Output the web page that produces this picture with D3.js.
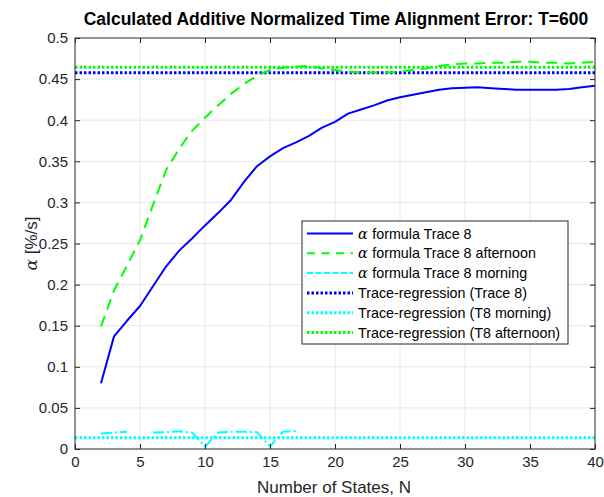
<!DOCTYPE html>
<html>
<head>
<meta charset="utf-8">
<script src="https://cdn.jsdelivr.net/npm/d3@7"></script>
<style>
  body { margin:0; background:#ffffff; }
  svg text { font-family: "Liberation Sans", Arial, Helvetica, sans-serif; }
</style>
</head>
<body>
<svg id="chart" width="604" height="497"></svg>
<script>
// number of states
var statesN = [2,3,4,5,6,7,8,9,10,11,12,13,14,15,16,17,18,19,20,21,22,23,24,25,26,27,28,29,30,31,32,33,34,35,36,37,38,39,40];

// alpha formula, Trace 8
var alphaTrace8 = [0.080,0.137,0.156,0.174,0.198,0.222,0.241,0.256,0.272,0.287,0.303,0.325,0.344,0.356,0.366,0.373,0.381,0.391,0.398,0.408,0.413,0.418,0.424,0.428,0.431,0.434,0.437,0.439,0.4395,0.440,0.439,0.438,0.437,0.437,0.437,0.437,0.438,0.440,0.442];

// alpha formula, Trace 8 afternoon
var alphaAfternoon = [0.149,0.193,0.223,0.254,0.297,0.339,0.365,0.387,0.403,0.418,0.432,0.444,0.454,0.461,0.464,0.465,0.466,0.463,0.461,0.459,0.458,0.458,0.458,0.459,0.461,0.463,0.466,0.468,0.469,0.469,0.470,0.470,0.471,0.471,0.470,0.470,0.469,0.470,0.471];

// alpha formula, Trace 8 morning (N=2..17, N=5 missing)
var statesMorning = [2,3,4,5,6,7,8,9,10,11,12,13,14,15,16,17];
var alphaMorning = [0.019,0.020,0.021,null,0.020,0.0205,0.0215,0.020,0.003,0.020,0.021,0.021,0.0205,0.003,0.021,0.022];

// trace-regression levels
var regTrace8 = 0.4577;
var regMorning = 0.0138;
var regAfternoon = 0.4645;

var xTicks = [0,5,10,15,20,25,30,35,40];
var yTicks = [0,0.05,0.1,0.15,0.2,0.25,0.3,0.35,0.4,0.45,0.5];

var margin = {left:75, top:38, right:9, bottom:48};
var W = 604, H = 497;
var plotW = W - margin.left - margin.right;
var plotH = H - margin.top - margin.bottom;

var svg = d3.select("#chart");
var g = svg.append("g").attr("transform","translate("+margin.left+","+margin.top+")");

var x = d3.scaleLinear().domain([0,40]).range([0,plotW]);
var y = d3.scaleLinear().domain([0,0.5]).range([plotH,0]);

// grid
g.append("g")
    .attr("class","grid")
    .selectAll("line.gx").data(xTicks.slice(1,-1)).enter().append("line")
    .attr("x1",function(d){ return x(d); }).attr("x2",function(d){ return x(d); })
    .attr("y1",0).attr("y2",plotH)
    .attr("stroke","#e6e6e6").attr("stroke-width",1);
g.append("g")
    .attr("class","grid")
    .selectAll("line.gy").data(yTicks.slice(1,-1)).enter().append("line")
    .attr("x1",0).attr("x2",plotW)
    .attr("y1",function(d){ return y(d); }).attr("y2",function(d){ return y(d); })
    .attr("stroke","#e6e6e6").attr("stroke-width",1);

svg.append("defs").append("clipPath").attr("id","plotClip")
    .append("rect").attr("x",0).attr("y",0).attr("width",plotW).attr("height",plotH);

var marks = g.append("g").attr("clip-path","url(#plotClip)");

var lineFn = d3.line()
    .defined(function(d){ return d[1] !== null; })
    .x(function(d){ return x(d[0]); })
    .y(function(d){ return y(d[1]); });

// regression levels (dotted)
var regs = [
    {v:regTrace8, color:"#0000ff"},
    {v:regMorning, color:"#00ffff"},
    {v:regAfternoon, color:"#00ff00"}
];
regs.forEach(function(r){
    marks.append("path")
        .attr("d", lineFn([[0,r.v],[40,r.v]]))
        .attr("fill","none")
        .attr("stroke",r.color)
        .attr("stroke-width",3)
        .attr("stroke-dasharray","2.5,2");
});

// formula curves
marks.append("path")
    .attr("d", lineFn(statesN.map(function(n,i){ return [n, alphaAfternoon[i]]; })))
    .attr("fill","none").attr("stroke","#00ff00").attr("stroke-width",2)
    .attr("stroke-dasharray","11,7");

marks.append("path")
    .attr("d", lineFn(statesMorning.map(function(n,i){ return [n, alphaMorning[i]]; })))
    .attr("fill","none").attr("stroke","#00ffff").attr("stroke-width",2)
    .attr("stroke-dasharray","11,3,2,3");

marks.append("path")
    .attr("d", lineFn(statesN.map(function(n,i){ return [n, alphaTrace8[i]]; })))
    .attr("fill","none").attr("stroke","#0000ff").attr("stroke-width",2)
    .attr("stroke-linejoin","round");

// axes (ticks inside, box on)
var axisColor = "#262626";
g.append("g").attr("transform","translate(0,"+plotH+")")
    .call(d3.axisBottom(x).tickValues(xTicks).tickSizeInner(-5).tickSizeOuter(0).tickPadding(7));
g.append("g")
    .call(d3.axisLeft(y).tickValues(yTicks).tickSizeInner(-5).tickSizeOuter(0).tickPadding(7)
        .tickFormat(function(d){ return d === 0 ? "0" : String(d); }));
g.append("g")
    .call(d3.axisTop(x).tickValues(xTicks).tickSizeInner(-5).tickSizeOuter(0).tickFormat(""));
g.append("g").attr("transform","translate("+plotW+",0)")
    .call(d3.axisRight(y).tickValues(yTicks).tickSizeInner(-5).tickSizeOuter(0).tickFormat(""));

g.selectAll(".domain").remove();
g.selectAll(".tick line").attr("stroke",axisColor);
g.selectAll(".tick text").attr("fill",axisColor).style("font-size","15px")
    .style("font-family","'Liberation Sans', Arial, sans-serif");

g.append("rect").attr("x",0).attr("y",0).attr("width",plotW).attr("height",plotH)
    .attr("fill","none").attr("stroke",axisColor).attr("stroke-width",1);

// title and labels
svg.append("text")
    .attr("x", margin.left + plotW/2 + 1).attr("y", 25)
    .attr("text-anchor","middle")
    .style("font-size","17.5px").style("font-weight","bold").attr("fill","#000000")
    .text("Calculated Additive Normalized Time Alignment Error: T=600");

svg.append("text")
    .attr("x", margin.left + plotW/2 - 1).attr("y", 493)
    .attr("text-anchor","middle")
    .style("font-size","17px").attr("fill",axisColor)
    .text("Number of States, N");

var yl = svg.append("text")
    .attr("transform","translate(37,"+(margin.top+plotH/2)+") rotate(-90)")
    .attr("text-anchor","middle")
    .style("font-size","17px").attr("fill",axisColor);
yl.append("tspan").style("font-family","'DejaVu Serif', serif").style("font-style","italic").text("\u03b1");
yl.append("tspan").text(" [%/s]");

// legend
var legendItems = [
    {label:"formula Trace 8", alpha:true, color:"#0000ff", dash:null, w:2},
    {label:"formula Trace 8 afternoon", alpha:true, color:"#00ff00", dash:"8,6.5", w:2},
    {label:"formula Trace 8 morning", alpha:true, color:"#00ffff", dash:"6,2.5", w:2},
    {label:"Trace-regression (Trace 8)", alpha:false, color:"#0000ff", dash:"2.5,2", w:3},
    {label:"Trace-regression (T8 morning)", alpha:false, color:"#00ffff", dash:"2.5,2", w:3},
    {label:"Trace-regression (T8 afternoon)", alpha:false, color:"#00ff00", dash:"2.5,2", w:3}
];
var lg = svg.append("g").attr("transform","translate(302,221)");
lg.append("rect").attr("x",0).attr("y",0).attr("width",266).attr("height",123)
    .attr("fill","#ffffff").attr("stroke",axisColor).attr("stroke-width",1);
legendItems.forEach(function(it,i){
    var yy = 12.5 + i*19.8;
    lg.append("line").attr("x1",5).attr("x2",51).attr("y1",yy).attr("y2",yy)
        .attr("stroke",it.color).attr("stroke-width",it.w)
        .attr("stroke-dasharray",it.dash);
    var t = lg.append("text").attr("x",56).attr("y",yy+5)
        .style("font-size","14.3px").attr("fill","#000000");
    if(it.alpha){
        t.append("tspan").style("font-family","'DejaVu Serif', serif").style("font-style","italic").text("\u03b1 ");
    }
    t.append("tspan").text(it.label);
});
</script>
</body>
</html>
